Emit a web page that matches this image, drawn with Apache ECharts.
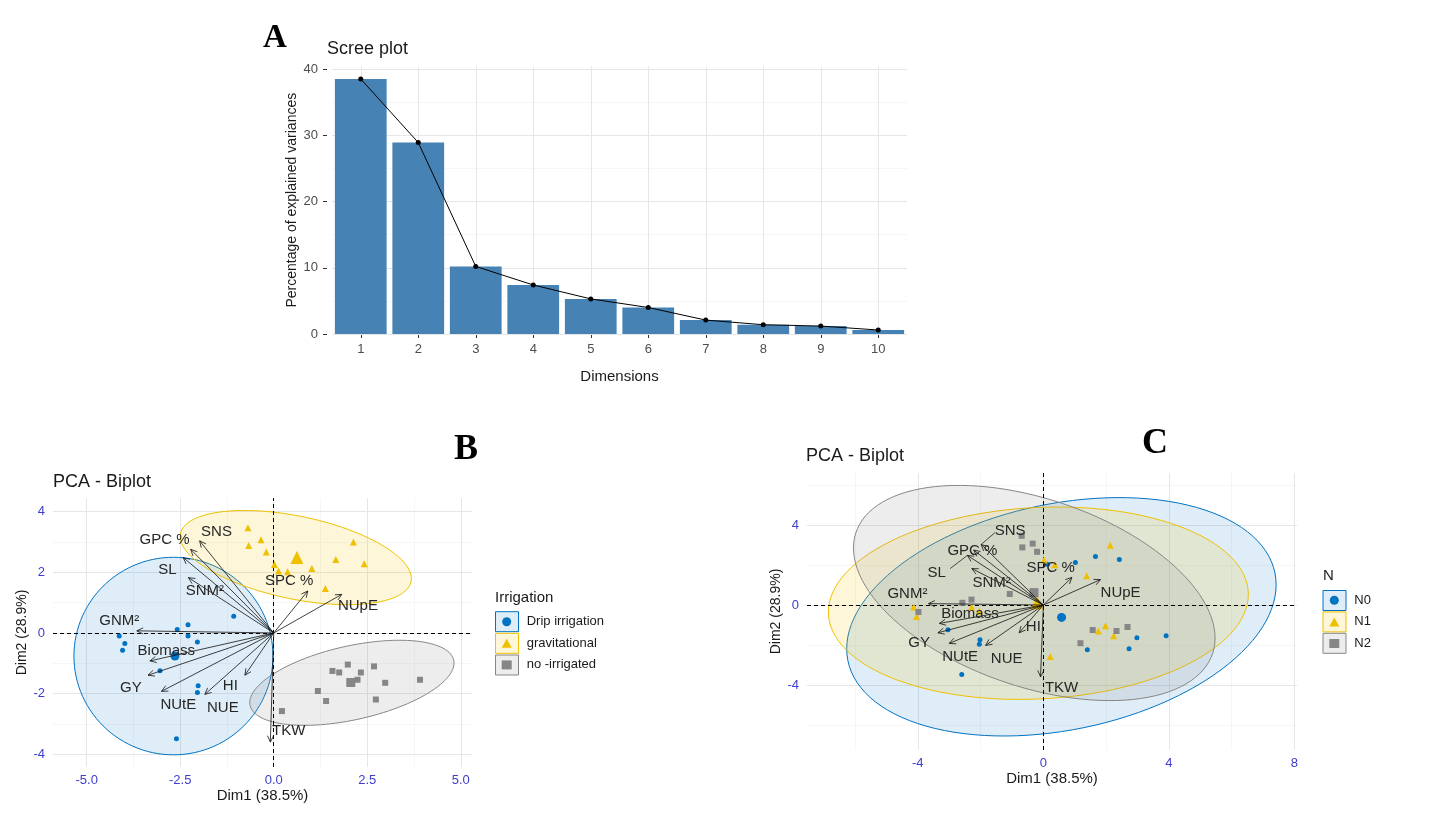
<!DOCTYPE html>
<html>
<head>
<meta charset="utf-8">
<title>PCA</title>
<script src="https://cdn.jsdelivr.net/npm/echarts@6/dist/echarts.min.js"></script>
<style>
  html, body { margin: 0; padding: 0; background: #fff; }
  #main { width: 1444px; height: 821px; }
</style>
</head>
<body>
<div id="main"></div>
<script>
// ---- A: scree plot ----
const dims = ['1', '2', '3', '4', '5', '6', '7', '8', '9', '10'];
const explained = [38.5, 28.9, 10.2, 7.4, 5.3, 4.0, 2.1, 1.4, 1.2, 0.6];
const screeTicks = [0, 10, 20, 30, 40];
const screeMinor = [5, 15, 25, 35];

// ---- variable arrows (same PCA in B and C) ----
const varNames = ['GPC %', 'SNS', 'SL', 'SNM²', 'SPC %', 'NUpE', 'GNM²', 'Biomass', 'GY', 'NUtE', 'NUE', 'HI', 'TKW'];
const varX = [-2.22, -1.98, -2.42, -2.28, 0.91, 1.82, -3.66, -3.31, -3.36, -3.00, -1.84, -0.77, -0.09];
const varY = [2.75, 3.03, 2.48, 1.82, 1.38, 1.27, 0.07, -0.92, -1.39, -1.92, -2.02, -1.39, -3.59];
const labBX = [-2.92, -1.53, -2.84, -1.84, 0.41, 2.25, -4.13, -2.87, -3.82, -2.55, -1.36, -1.16, 0.40];
const labBY = [3.07, 3.34, 2.09, 1.40, 1.73, 0.88, 0.39, -0.58, -1.80, -2.36, -2.46, -1.75, -3.22];
const labCX = [-2.26, -1.06, -3.40, -1.65, 0.23, 2.46, -4.33, -2.34, -3.96, -2.65, -1.17, -0.32, 0.58];
const labCY = [2.70, 3.73, 1.62, 1.12, 1.87, 0.62, 0.58, -0.42, -1.88, -2.58, -2.68, -1.08, -4.13];
// C label leader lines: from label side to arrow tip
const leadFromX = [-1.54, -2.97];
const leadFromY = [3.62, 1.82];
const leadToX = [-1.98, -2.42];
const leadToY = [3.03, 2.48];

// ---- B: individuals by irrigation ----
const irrNames = ['Drip irrigation', 'gravitational', 'no -irrigated'];
const dripX = [-1.07, -2.58, -2.29, -4.13, -3.98, -4.04, -2.29, -2.04, -3.04, -2.02, -2.04, -2.60];
const dripY = [0.55, 0.11, 0.27, -0.10, -0.35, -0.57, -0.10, -0.30, -1.24, -1.74, -1.96, -3.48];
const gravX = [-0.69, -0.67, -0.34, -0.20, 0.02, 0.13, 0.37, 1.02, 1.66, 2.13, 2.42, 1.38];
const gravY = [3.46, 2.88, 3.07, 2.66, 2.25, 2.04, 2.01, 2.12, 2.42, 2.99, 2.28, 1.46];
const noirX = [1.98, 1.57, 1.75, 2.33, 2.68, 2.24, 2.98, 3.91, 1.18, 1.40, 2.73, 0.22];
const noirY = [-1.04, -1.25, -1.30, -1.30, -1.10, -1.54, -1.64, -1.54, -1.91, -2.24, -2.19, -2.57];
const irrMeanX = [-2.64, 0.62, 2.06];
const irrMeanY = [-0.76, 2.48, -1.63];
// ellipse: centre, half width, half height, y-offset at max x
const irrEllCx = [-2.68, 0.59, 2.09];
const irrEllCy = [-0.76, 2.48, -1.64];
const irrEllW = [2.66, 3.09, 2.73];
const irrEllH = [3.25, 1.55, 1.40];
const irrEllK = [0.0, -0.69, 0.65];

// ---- C: individuals by N dose ----
const nNames = ['N0', 'N1', 'N2'];
const n0X = [1.02, 1.66, 2.42, 0.13, 3.91, 2.98, 2.73, 1.40, -3.04, -2.02, -2.04, -2.60];
const n0Y = [2.12, 2.42, 2.28, 2.04, -1.54, -1.64, -2.19, -2.24, -1.24, -1.74, -1.96, -3.48];
const n1X = [2.13, 0.02, 0.37, 1.38, -4.13, -4.04, -2.29, -2.04, 1.75, 1.98, 2.24, 0.22];
const n1Y = [2.99, 2.25, 2.01, 1.46, -0.10, -0.57, -0.10, -0.30, -1.30, -1.04, -1.54, -2.57];
const n2X = [-0.69, -0.67, -0.34, -0.20, -1.07, -2.29, -2.58, -3.98, 1.57, 2.33, 2.68, 1.18];
const n2Y = [3.46, 2.88, 3.07, 2.66, 0.55, 0.27, 0.11, -0.35, -1.25, -1.30, -1.10, -1.91];
const nMeanX = [0.58, -0.20, -0.30];
const nMeanY = [-0.62, 0.11, 0.62];
const nEllCx = [0.575, -0.16, -0.29];
const nEllCy = [-0.59, 0.09, 0.60];
const nEllW = [6.84, 6.69, 5.76];
const nEllH = [5.96, 4.81, 5.38];
const nEllK = [1.6, 0.44, -2.25];

// ---- axes ticks / grid ----
const bXMajor = [-5, -2.5, 0, 2.5, 5];
const bXMinor = [-3.75, -1.25, 1.25, 3.75];
const bYMajor = [-4, -2, 0, 2, 4];
const bYMinor = [-3, -1, 1, 3];
const cXMajor = [-4, 0, 4, 8];
const cXMinor = [-6, -2, 2, 6];
const cYMajor = [-4, 0, 4];
const cYMinor = [-6, -2, 2, 6];

const groupColors = ['#0073C2', '#EFC000', '#868686'];
const groupFills = ['rgba(0,115,194,0.13)', 'rgba(239,192,0,0.15)', 'rgba(134,134,134,0.15)'];
const groupSymbols = ['circle', 'triangle', 'rect'];
const smallSize = [5, 7, 6];
const meanSize = [9, 13, 9];
const tickBlue = '#3d3dcf';
const FONT = 'Liberation Sans';

const zip = (xs, ys) => xs.map((x, i) => [x, ys[i]]);

const majorLine = { color: '#e6e6e6', width: 1, type: 'solid' };
const minorLine = { color: '#f2f2f2', width: 0.7, type: 'solid' };

function gridSeries(xi, xMaj, xMin, yMaj, yMin) {
  const d = [];
  xMin.forEach(v => d.push({ xAxis: v, lineStyle: minorLine }));
  yMin.forEach(v => d.push({ yAxis: v, lineStyle: minorLine }));
  xMaj.forEach(v => d.push({ xAxis: v, lineStyle: majorLine }));
  yMaj.forEach(v => d.push({ yAxis: v, lineStyle: majorLine }));
  return {
    type: 'line', xAxisIndex: xi, yAxisIndex: xi, data: [], z: 0, silent: true,
    markLine: { z: 1, silent: true, symbol: 'none', label: { show: false }, data: d }
  };
}

function zeroLines(xi) {
  return {
    type: 'line', xAxisIndex: xi, yAxisIndex: xi, data: [], z: 3, silent: true,
    markLine: {
      z: 3, silent: true, symbol: 'none', label: { show: false },
      lineStyle: { color: '#000', width: 1, type: [4, 3] },
      data: [{ xAxis: 0 }, { yAxis: 0 }]
    }
  };
}

function ellipseSeries(xi, cx, cy, w, h, k) {
  return {
    type: 'custom', xAxisIndex: xi, yAxisIndex: xi, z: 2, silent: true,
    encode: { x: 0, y: 1 },
    data: cx.map((v, i) => [v, cy[i], w[i], h[i], k[i]]),
    renderItem(params, api) {
      const x0 = api.value(0), y0 = api.value(1), ww = api.value(2), hh = api.value(3), kk = api.value(4);
      const s = Math.sqrt(hh * hh - kk * kk);
      const pts = [];
      for (let t = 0; t < 120; t++) {
        const a = t / 120 * Math.PI * 2;
        pts.push(api.coord([x0 + ww * Math.cos(a), y0 + kk * Math.cos(a) + s * Math.sin(a)]));
      }
      const i = params.dataIndex;
      return {
        type: 'polygon', shape: { points: pts },
        style: { fill: groupFills[i], stroke: groupColors[i], lineWidth: 1, opacity: 1 }
      };
    }
  };
}

function arrowSeries(xi) {
  return {
    type: 'custom', xAxisIndex: xi, yAxisIndex: xi, z: 5, silent: true,
    data: zip(varX, varY),
    renderItem(params, api) {
      const o = api.coord([0, 0]);
      const p = api.coord([api.value(0), api.value(1)]);
      const ang = Math.atan2(p[1] - o[1], p[0] - o[0]);
      const hl = 7, ha = Math.PI / 7;
      const h1 = [p[0] - hl * Math.cos(ang - ha), p[1] - hl * Math.sin(ang - ha)];
      const h2 = [p[0] - hl * Math.cos(ang + ha), p[1] - hl * Math.sin(ang + ha)];
      return {
        type: 'group', children: [
          { type: 'line', shape: { x1: o[0], y1: o[1], x2: p[0], y2: p[1] }, style: { stroke: '#111', lineWidth: 0.8 } },
          { type: 'polyline', shape: { points: [h1, p, h2] }, style: { stroke: '#111', lineWidth: 0.8, fill: null } }
        ]
      };
    }
  };
}

function labelSeries(xi, lx, ly) {
  return {
    type: 'custom', xAxisIndex: xi, yAxisIndex: xi, z: 6, silent: true,
    data: zip(lx, ly),
    renderItem(params, api) {
      const p = api.coord([api.value(0), api.value(1)]);
      return {
        type: 'text', x: p[0], y: p[1],
        style: {
          text: varNames[params.dataIndex], fill: '#262626',
          font: '15px "' + FONT + '"', align: 'center', verticalAlign: 'middle'
        }
      };
    }
  };
}

function pointSeries(xi, name, g, xs, ys, big) {
  return {
    type: 'scatter', name: name, xAxisIndex: xi, yAxisIndex: xi, z: 4, silent: true,
    symbol: groupSymbols[g], symbolSize: big ? meanSize[g] : smallSize[g],
    itemStyle: { color: groupColors[g], opacity: 1 },
    data: zip(xs, ys)
  };
}

function valueAxis(idx, min, max, labels, fmt, name, gap, isX) {
  return {
    type: 'value', gridIndex: idx, min: min, max: max,
    name: name, nameLocation: 'middle', nameGap: gap,
    nameTextStyle: { fontSize: isX ? 15 : 14, color: '#1a1a1a', fontFamily: FONT },
    axisLine: { show: false }, axisTick: { show: false }, splitLine: { show: false },
    axisLabel: {
      customValues: labels, color: tickBlue, fontSize: 13, margin: isX ? 7 : 8,
      formatter: fmt
    }
  };
}

const chart = echarts.init(document.getElementById('main'), null, { renderer: 'canvas' });

const series = [];
// A
series.push({
  type: 'line', xAxisIndex: 0, yAxisIndex: 0, data: [], z: 0, silent: true,
  markLine: {
    z: 1, silent: true, symbol: 'none', label: { show: false },
    data: [
      ...screeMinor.map(v => ({ yAxis: v, lineStyle: minorLine })),
      ...screeTicks.map(v => ({ yAxis: v, lineStyle: majorLine })),
      ...dims.map((d, i) => ({ xAxis: i, lineStyle: majorLine }))
    ]
  }
});
series.push({
  type: 'bar', xAxisIndex: 0, yAxisIndex: 0, data: explained, z: 2, silent: true,
  barCategoryGap: '10%', itemStyle: { color: '#4682B4' }
});
series.push({
  type: 'line', xAxisIndex: 0, yAxisIndex: 0, data: explained, z: 3, silent: true,
  symbol: 'circle', symbolSize: 5, showSymbol: true,
  lineStyle: { color: '#000', width: 1 }, itemStyle: { color: '#000' }
});
// B
series.push(gridSeries(1, bXMajor, bXMinor, bYMajor, bYMinor));
series.push(ellipseSeries(1, irrEllCx, irrEllCy, irrEllW, irrEllH, irrEllK));
series.push(zeroLines(1));
series.push(pointSeries(1, irrNames[0], 0, dripX, dripY, false));
series.push(pointSeries(1, irrNames[1], 1, gravX, gravY, false));
series.push(pointSeries(1, irrNames[2], 2, noirX, noirY, false));
irrNames.forEach((n, g) => series.push(pointSeries(1, n + ' mean', g, [irrMeanX[g]], [irrMeanY[g]], true)));
series.push(arrowSeries(1));
series.push(labelSeries(1, labBX, labBY));
// C
series.push(gridSeries(2, cXMajor, cXMinor, cYMajor, cYMinor));
series.push(ellipseSeries(2, nEllCx, nEllCy, nEllW, nEllH, nEllK));
series.push(zeroLines(2));
series.push(pointSeries(2, nNames[0], 0, n0X, n0Y, false));
series.push(pointSeries(2, nNames[1], 1, n1X, n1Y, false));
series.push(pointSeries(2, nNames[2], 2, n2X, n2Y, false));
nNames.forEach((n, g) => series.push(pointSeries(2, n + ' mean', g, [nMeanX[g]], [nMeanY[g]], true)));
series.push(arrowSeries(2));
series.push({
  type: 'custom', xAxisIndex: 2, yAxisIndex: 2, z: 5, silent: true,
  data: leadFromX.map((x, i) => [x, leadFromY[i], leadToX[i], leadToY[i]]),
  encode: { x: 0, y: 1 },
  renderItem(params, api) {
    const a = api.coord([api.value(0), api.value(1)]);
    const b = api.coord([api.value(2), api.value(3)]);
    return { type: 'line', shape: { x1: a[0], y1: a[1], x2: b[0], y2: b[1] }, style: { stroke: '#222', lineWidth: 0.8 } };
  }
});
series.push(labelSeries(2, labCX, labCY));

const legendBase = {
  orient: 'vertical', itemWidth: 10, itemHeight: 9, itemGap: 0, padding: 0,
  selectedMode: false,
  textStyle: { fontSize: 13, color: '#1a1a1a', fontFamily: FONT, lineHeight: 21.6, padding: [0, 0, 0, 10] }
};

const graphic = [];
[611.7, 633.3, 655].forEach((y, g) => graphic.push({
  type: 'rect', z: 1, shape: { x: 495.5, y: y, width: 23, height: 20 },
  style: { fill: groupFills[g], stroke: groupColors[g], lineWidth: 1 }
}));
[590.5, 611.9, 633.3].forEach((y, g) => graphic.push({
  type: 'rect', z: 1, shape: { x: 1323, y: y, width: 23, height: 20 },
  style: { fill: groupFills[g], stroke: groupColors[g], lineWidth: 1 }
}));

const letter = { fontFamily: 'Liberation Serif', fontWeight: 'bold', color: '#000' };
const plotTitle = { fontFamily: FONT, fontWeight: 'normal', fontSize: 18, color: '#1a1a1a' };

chart.setOption({
  animation: false,
  textStyle: { fontFamily: FONT },
  title: [
    { text: 'A', left: 263, top: 22, padding: 0, textStyle: Object.assign({ fontSize: 33 }, letter) },
    { text: 'Scree plot', left: 327, top: 40, padding: 0, textStyle: plotTitle },
    { text: 'B', left: 454, top: 432, padding: 0, textStyle: Object.assign({ fontSize: 36 }, letter) },
    { text: 'PCA - Biplot', left: 53, top: 473, padding: 0, textStyle: plotTitle },
    { text: 'Irrigation', left: 495, top: 590, padding: 0, textStyle: { fontFamily: FONT, fontWeight: 'normal', fontSize: 15, color: '#1a1a1a' } },
    { text: 'C', left: 1142, top: 426, padding: 0, textStyle: Object.assign({ fontSize: 36 }, letter) },
    { text: 'PCA - Biplot', left: 806, top: 447, padding: 0, textStyle: plotTitle },
    { text: 'N', left: 1323, top: 568, padding: 0, textStyle: { fontFamily: FONT, fontWeight: 'normal', fontSize: 15, color: '#1a1a1a' } }
  ],
  legend: [
    Object.assign({}, legendBase, {
      left: 501.7, top: 610.9,
      data: irrNames.map((n, g) => ({ name: n, icon: groupSymbols[g] }))
    }),
    Object.assign({}, legendBase, {
      left: 1329.3, top: 589.5,
      data: nNames.map((n, g) => ({ name: n, icon: groupSymbols[g] }))
    })
  ],
  graphic: graphic,
  grid: [
    { left: 332, top: 66.4, width: 575, height: 267.6 },
    { left: 53, top: 498, width: 419, height: 269 },
    { left: 807, top: 473, width: 490, height: 277 }
  ],
  xAxis: [
    {
      type: 'category', gridIndex: 0, data: dims, boundaryGap: true,
      name: 'Dimensions', nameLocation: 'middle', nameGap: 35,
      nameTextStyle: { fontSize: 15, color: '#1a1a1a' },
      axisLine: { show: false },
      axisTick: { show: true, alignWithLabel: true, length: 4, lineStyle: { color: '#333' } },
      axisLabel: { color: '#4d4d4d', fontSize: 13, margin: 9 },
      splitLine: { show: false }
    },
    valueAxis(1, -5.9, 5.3, bXMajor, v => Number(v).toFixed(1), 'Dim1 (38.5%)', 20, true),
    valueAxis(2, -7.53, 8.08, cXMajor, v => String(v), 'Dim1 (38.5%)', 21, true)
  ],
  yAxis: [
    {
      type: 'value', gridIndex: 0, min: 0, max: 40.4, offset: 5,
      name: 'Percentage of explained variances', nameLocation: 'middle', nameGap: 28,
      nameTextStyle: { fontSize: 14, color: '#1a1a1a' },
      axisLine: { show: false },
      axisTick: { show: true, customValues: screeTicks, length: 4, lineStyle: { color: '#333' } },
      axisLabel: { customValues: screeTicks, color: '#4d4d4d', fontSize: 13, margin: 9 },
      splitLine: { show: false }
    },
    valueAxis(1, -4.41, 4.44, bYMajor, v => String(v), 'Dim2 (28.9%)', 21, false),
    valueAxis(2, -7.25, 6.6, cYMajor, v => String(v), 'Dim2 (28.9%)', 24, false)
  ],
  series: series
});
</script>
</body>
</html>
